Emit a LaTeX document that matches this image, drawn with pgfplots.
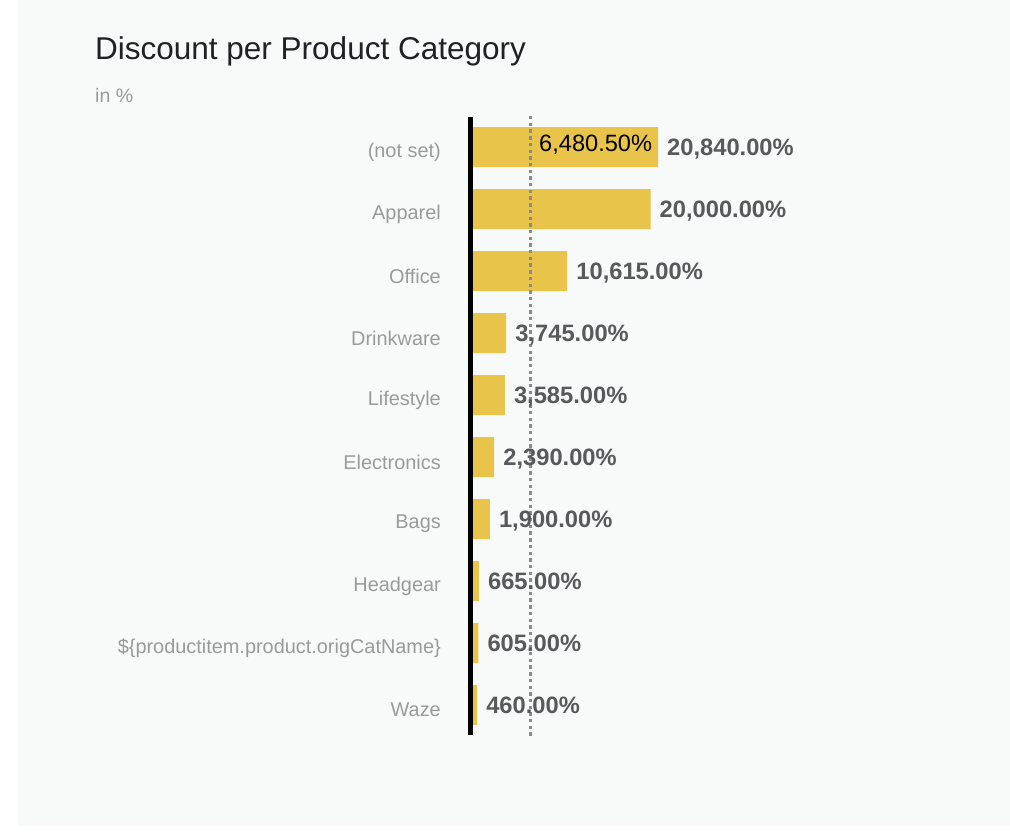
\documentclass[border=0pt]{standalone}
\usepackage{pgfplots}
\pgfplotsset{compat=1.18}
\usepackage{fontspec}
\setmainfont{Liberation Sans}
\definecolor{bgc}{HTML}{F8F9F9}
\definecolor{barc}{HTML}{E8C44A}
\definecolor{titlec}{HTML}{202124}
\definecolor{subc}{HTML}{9A9A9A}
\definecolor{valc}{HTML}{58595B}
\definecolor{avgc}{HTML}{8A8A8A}
\begin{document}
\begin{tikzpicture}[x=1pt,y=1pt]
\useasboundingbox (0,0) rectangle (1010,-838);
\fill[bgc] (18,0) rectangle (1010,-826);
\node[anchor=base west, inner sep=0pt, text=titlec, font=\fontsize{31.5}{37}\selectfont] at (95,-59) {Discount per Product Category};
\node[anchor=base west, inner sep=0pt, text=subc, font=\fontsize{19.5}{23}\selectfont] at (95,-102) {in \%};
\begin{axis}[
  at={(473pt,-736pt)}, anchor=south west,
  scale only axis, width=355.1pt, height=620pt,
  xmin=0, xmax=40000, ymin=-0.5, ymax=9.5,
  y dir=reverse,
  hide x axis,
  axis line style={draw=none},
  ytick={0,...,9},
  yticklabels={(not set),Apparel,Office,Drinkware,Lifestyle,Electronics,Bags,Headgear,{\$\{productitem.product.origCatName\}},Waze},
  ytick style={draw=none},
  major tick length=0pt,
  yticklabel style={anchor=east, inner sep=0pt, xshift=-32pt, yshift=-5pt, text=subc, font=\fontsize{19.9}{24}\selectfont},
  clip=false,
]
\addplot[xbar, bar width=40pt, fill=barc, draw=none,
  point meta=x,
  nodes near coords={\pgfmathprintnumber[fixed,fixed zerofill,precision=2,1000 sep={,},assume math mode=true]{\pgfplotspointmeta}\%},
  every node near coord/.style={anchor=base west, inner sep=0pt, xshift=9pt, yshift=-8.5pt, text=valc, font=\fontsize{23.7}{28}\selectfont\bfseries},
] coordinates {
(20840,0) (20000,1) (10615,2) (3745,3) (3585,4) (2390,5) (1900,6) (665,7) (605,8) (460,9)
};
\addplot[avgc, line width=3.2pt, dash pattern=on 3.4pt off 3.3pt] coordinates {(6480.5,-0.5) (6480.5,9.5)};
\addplot[black, line width=5pt, xshift=-2.5pt] coordinates {(0,-0.48) (0,9.48)};
\node[anchor=base west, inner sep=0pt, xshift=8.5pt, yshift=-4pt, text=black, font=\fontsize{23.6}{28}\selectfont] at (axis cs:6480.5,0) {6,480.50\%};
\end{axis}
\end{tikzpicture}
\end{document}
